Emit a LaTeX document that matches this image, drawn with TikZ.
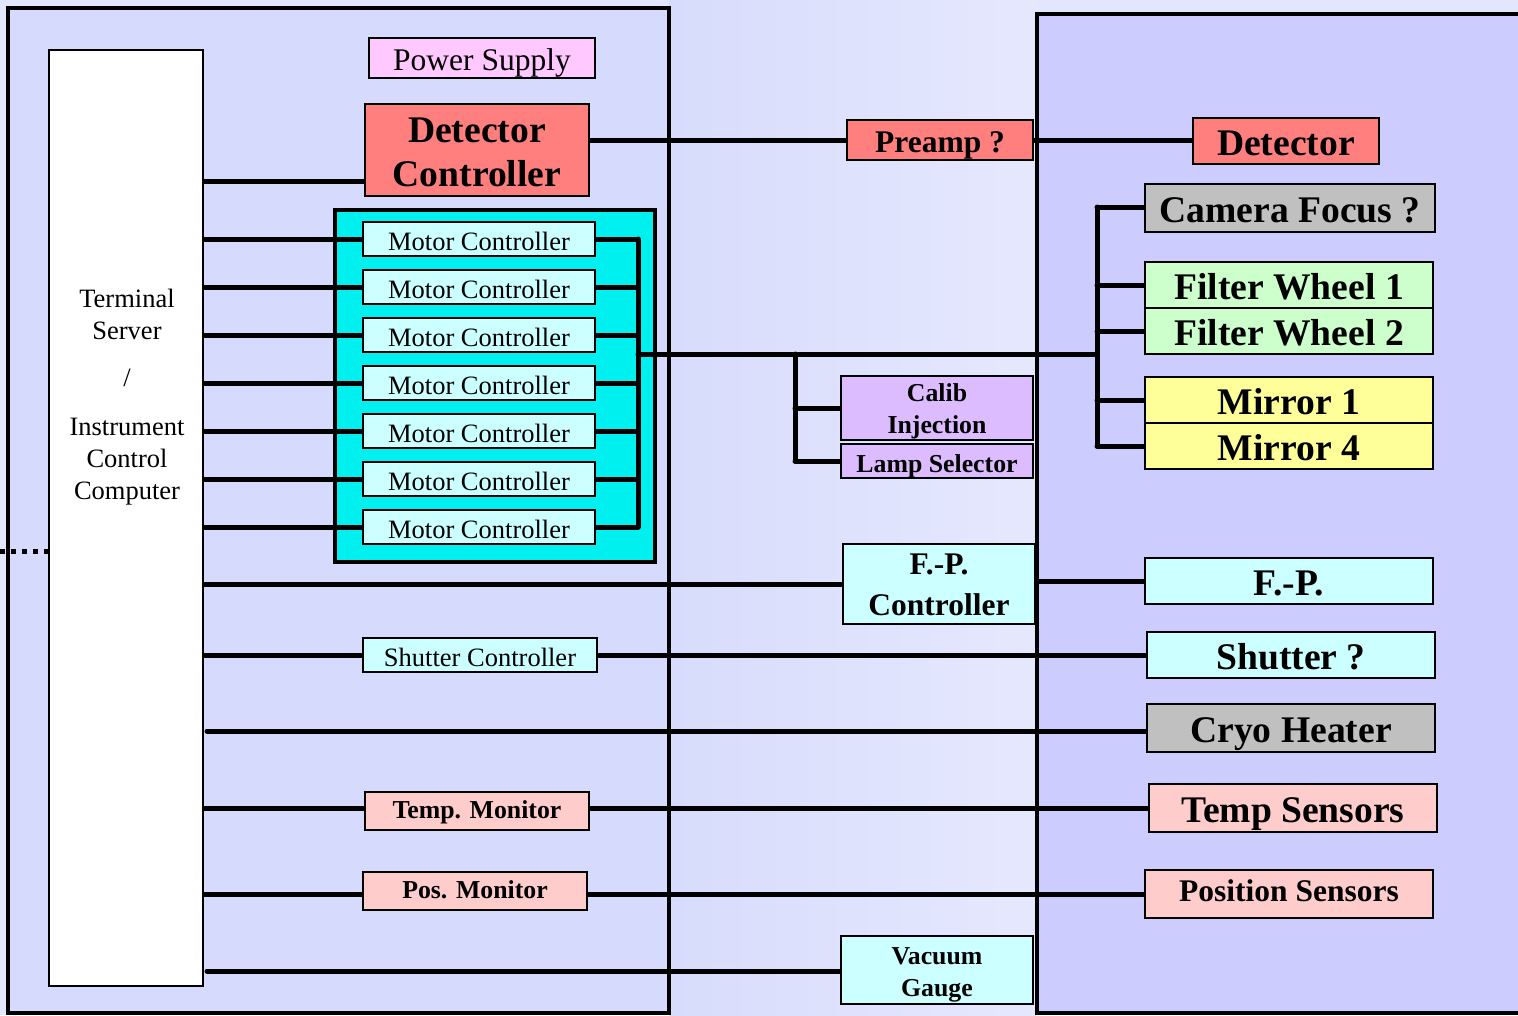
\documentclass[tikz,border=0pt]{standalone}
\usepackage{fontspec}
\setmainfont{Liberation Serif}
\usetikzlibrary{calc}
\pgfdeclarelayer{back}
\pgfdeclarelayer{lines}
\pgfsetlayers{back,lines,main}
\definecolor{pagebg}{HTML}{E3E7FD}
\definecolor{midL}{HTML}{D8DCFC}
\definecolor{midR}{HTML}{E5E8FD}
\definecolor{leftpanel}{HTML}{D6DBFD}
\definecolor{rightpanel}{HTML}{CCCCFF}
\definecolor{cyanbox}{HTML}{00F0F0}
\definecolor{lcyan}{HTML}{CCFFFF}
\definecolor{salmon}{HTML}{FF7F7F}
\definecolor{pspink}{HTML}{FFC8FF}
\definecolor{lpurple}{HTML}{DCBBFF}
\definecolor{lgray}{HTML}{C0C0C0}
\definecolor{lgreen}{HTML}{CCFFCC}
\definecolor{lyellow}{HTML}{FFFF99}
\definecolor{lpink}{HTML}{FFCCCC}
\begin{document}
\begin{tikzpicture}[x=1pt,y=-1pt,
  box/.style={draw,line width=2pt,inner sep=0pt,outer sep=0pt,align=center},
  txt/.style={inner sep=0pt,align=center},
  conn/.style={line width=5pt,line cap=round},
  panel/.style={draw,line width=4pt},
  smallreg/.style={font=\fontsize{26.5}{32}\selectfont,text height=25pt,text depth=3pt},
  psfont/.style={font=\fontsize{31.5}{38}\selectfont,text height=28pt,text depth=3pt},
  smallbold/.style={font=\bfseries\fontsize{25.8}{32}\selectfont,text height=25pt,text depth=3pt},
  medbold/.style={font=\bfseries\fontsize{31.5}{41}\selectfont,text height=28pt,text depth=3pt},
  bigbold/.style={font=\bfseries\fontsize{37.6}{44}\selectfont,text height=32pt,text depth=3pt},
  lowtext/.style={text height=18pt,text depth=3pt},
  mlreg/.style={font=\fontsize{26.5}{32}\selectfont},
  mlsmall/.style={font=\bfseries\fontsize{25.8}{32}\selectfont},
  mlmed/.style={font=\bfseries\fontsize{31.5}{41}\selectfont},
  mlbig/.style={font=\bfseries\fontsize{37.6}{44}\selectfont}]
\useasboundingbox (0,0) rectangle (1518,1015);

\begin{pgfonlayer}{back}
\fill[pagebg] (0,0) rectangle (1518,1015);
\shade[left color=midL,right color=midR] (669,0) rectangle (1037,1015);
\draw[panel,fill=leftpanel] (8,8) rectangle (669,1013);
\draw[panel,fill=rightpanel] (1037,14) rectangle (1540,1013);
\draw[panel,fill=cyanbox] (335,210) rectangle (655,562);
\end{pgfonlayer}

% Terminal server
\node[box,fill=white,minimum width=154pt,minimum height=936pt] (ts) at (126,518) {};
\node[txt,mlreg] (tstext) at (127,397)
  {Terminal\\Server\\[15pt]/\\[17pt]Instrument\\Control\\Computer};

% left column
\node[box,psfont,fill=pspink,minimum width=226pt,minimum height=40pt] (ps) at (482,58) {Power Supply};
\node[box,fill=salmon,minimum width=224pt,minimum height=92pt] (dc) at (477,150) {};
\node[txt,mlbig] (dctext) at ([yshift=-2pt]dc.center) {Detector\\Controller};
\foreach \i/\y in {1/239,2/287,3/335,4/383,5/431,6/479,7/527}{
  \node[box,smallreg,fill=lcyan,minimum width=232pt,minimum height=34pt] (mc\i) at (479,\y) {Motor Controller};
}
\node[box,smallreg,fill=lcyan,minimum width=234pt,minimum height=34pt] (sc) at (480,655) {Shutter Controller};
\node[box,smallbold,lowtext,fill=lpink,minimum width=224pt,minimum height=38pt] (tm) at (477,811) {Temp. Monitor};
\node[box,smallbold,lowtext,fill=lpink,minimum width=224pt,minimum height=38pt] (pm) at (475,891) {Pos. Monitor};

% middle column
\node[box,medbold,fill=salmon,minimum width=186pt,minimum height=40pt] (pre) at (940,140) {Preamp ?};
\node[box,fill=lpurple,minimum width=192pt,minimum height=64pt] (ci) at (937,408) {};
\node[txt,mlsmall] (citext) at ([yshift=-3pt]ci.center) {Calib\\Injection};
\node[box,smallbold,fill=lpurple,minimum width=192pt,minimum height=34pt] (ls) at (937,461) {Lamp Selector};
\node[box,fill=lcyan,minimum width=192pt,minimum height=80pt] (fpc) at (939,584) {};
\node[txt,mlmed] (fpctext) at ([yshift=-1pt]fpc.center) {F.-P.\\Controller};
\node[box,fill=lcyan,minimum width=192pt,minimum height=68pt] (vg) at (937,970) {};
\node[txt,mlsmall] (vgtext) at ([yshift=-5pt]vg.center) {Vacuum\\Gauge};

% right column
\node[box,bigbold,fill=salmon,minimum width=186pt,minimum height=46pt] (det) at (1286,141) {Detector};
\node[box,bigbold,fill=lgray,minimum width=290pt,minimum height=48pt] (cf) at (1290,208) {Camera Focus ?};
\node[box,bigbold,fill=lgreen,minimum width=288pt,minimum height=46pt] (fw1) at (1289,285) {Filter Wheel 1};
\node[box,bigbold,fill=lgreen,minimum width=288pt,minimum height=46pt] (fw2) at (1289,331) {Filter Wheel 2};
\node[box,bigbold,fill=lyellow,minimum width=288pt,minimum height=46pt] (m1) at (1289,400) {Mirror 1};
\node[box,bigbold,fill=lyellow,minimum width=288pt,minimum height=46pt] (m4) at (1289,446) {Mirror 4};
\node[box,bigbold,fill=lcyan,minimum width=288pt,minimum height=46pt] (fp) at (1289,581) {F.-P.};
\node[box,bigbold,fill=lcyan,minimum width=288pt,minimum height=46pt] (sh) at (1291,655) {Shutter ?};
\node[box,bigbold,fill=lgray,minimum width=288pt,minimum height=48pt] (cryo) at (1291,728) {Cryo Heater};
\node[box,bigbold,fill=lpink,minimum width=288pt,minimum height=48pt] (tsen) at (1293,808) {Temp Sensors};
\node[box,medbold,lowtext,fill=lpink,minimum width=288pt,minimum height=48pt] (psen) at (1289,894) {Position Sensors};

% connector helper coordinates
\coordinate (dcin) at (365,181);
\coordinate (busT) at (638,239);
\coordinate (busB) at (638,527);
\coordinate (busM) at (638,354);
\coordinate (cbT) at (795,354);
\coordinate (cbB) at (795,461);
\coordinate (rbM) at (1097,354);
\coordinate (rbT) at (1097,207);
\coordinate (rbB) at (1097,446);
\coordinate (dotL) at (0,551);
\coordinate (cryoL) at (207,731);
\coordinate (vgL) at (207,971);
\coordinate (tmL) at (200,808);

\begin{pgfonlayer}{lines}
\draw[line width=5pt,dash pattern=on 5pt off 6pt] (dotL) -- (ts.west |- dotL);
\draw[conn] (ts.east |- dcin) -- (dcin);
\draw[conn] ([yshift=10pt]dc.east) -- (pre.west);
\draw[conn] (pre.east) -- (det.west |- pre.east);
\foreach \i in {1,...,7}{
  \draw[conn] (ts.east |- mc\i.west) -- (mc\i.west);
  \draw[conn] (mc\i.east) -- (busT |- mc\i.east);
}
\draw[conn] (busT) -- (busB);
\draw[conn] (busM) -- (rbM);
\draw[conn] (cbT) -- (cbB);
\draw[conn] (cbT |- ci.west) -- (ci.west);
\draw[conn] (cbB) -- (ls.west);
\draw[conn] (rbT) -- (rbB);
\draw[conn] (rbT) -- (cf.west |- rbT);
\draw[conn] (rbT |- fw1.west) -- (fw1.west);
\draw[conn] (rbT |- fw2.west) -- (fw2.west);
\draw[conn] (rbT |- m1.west) -- (m1.west);
\draw[conn] (rbB) -- (m4.west |- rbB);
\draw[conn] (ts.east |- fpc.west) -- (fpc.west);
\draw[conn] (fpc.east |- fp.west) -- (fp.west);
\draw[conn] (ts.east |- sc.west) -- (sc.west);
\draw[conn] (sc.east) -- (sh.west |- sc.east);
\draw[conn] (cryoL) -- (cryo.west |- cryoL);
\draw[conn] (tmL) -- (tm.west |- tmL);
\draw[conn] (tm.east |- tmL) -- (tsen.west |- tmL);
\draw[conn] (ts.east |- psen.west) -- (pm.west |- psen.west);
\draw[conn] (pm.east |- psen.west) -- (psen.west);
\draw[conn] (vgL) -- (vg.west |- vgL);
\end{pgfonlayer}
\end{tikzpicture}
\end{document}
